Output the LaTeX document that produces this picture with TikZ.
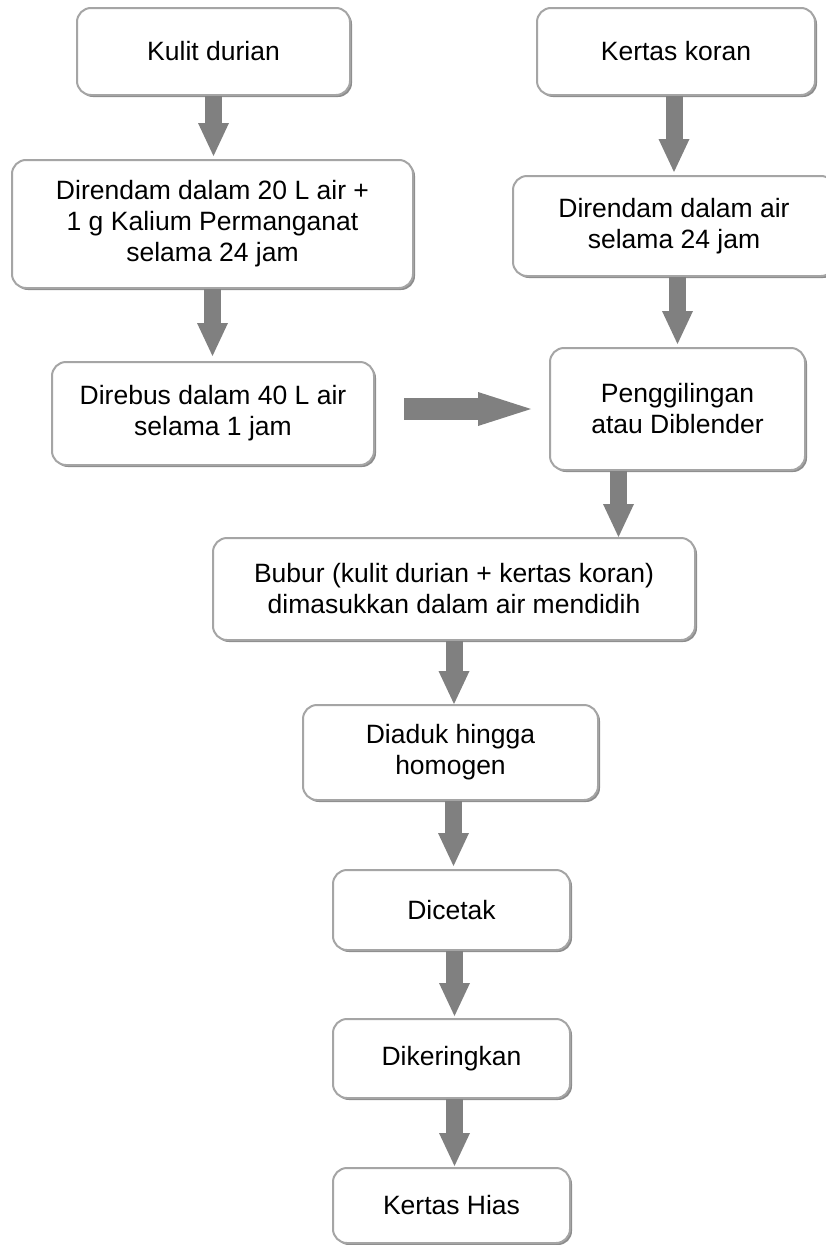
\documentclass[tikz,border=0pt]{standalone}
\usepackage{fontspec}
\setmainfont{Liberation Sans}
\usetikzlibrary{arrows.meta, positioning, shadows}
\definecolor{boxline}{RGB}{165,165,165}
\definecolor{flowgray}{RGB}{128,128,128}

\begin{document}
\begin{tikzpicture}[x=1pt,y=-1pt]
  \tikzstyle{stage}=[draw=boxline, line width=2pt, rounded corners=14pt, fill=white,
    align=center, inner sep=0pt, font=\fontsize{26.5}{31}\selectfont,
    drop shadow={shadow xshift=2pt, shadow yshift=-2pt, fill=black!45, opacity=1}]
  \tikzstyle{flow}=[color=flowgray, line width=17pt,
    -{Triangle[width=31pt,length=33pt,line width=0pt]}]

  \useasboundingbox (0,0) rectangle (826,1245);

  % left column
  \node[stage, minimum width=273pt, minimum height=87pt]  (kulit)   at (213.5,51.5) {Kulit durian};
  \node[stage, minimum width=401pt, minimum height=128pt] (rendamA) at (212.5,224)  {Direndam dalam 20 L air +\\ 1 g Kalium Permanganat\\ selama 24 jam};
  \node[stage, minimum width=322pt, minimum height=103pt] (rebus)   at (213,413.5)  {Direbus dalam 40 L air\\ selama 1 jam};

  % right column
  \node[stage, minimum width=278pt, minimum height=87pt]  (koran)   at (676,51.5)   {Kertas koran};
  \node[stage, minimum width=322pt, minimum height=100pt] (rendamB) at (674,226)    {Direndam dalam air\\ selama 24 jam};
  \node[stage, minimum width=255pt, minimum height=122pt] (giling)  at (677.5,409)  {Penggilingan\\ atau Diblender};

  % middle
  \node[stage, minimum width=482pt, minimum height=102pt] (bubur)   at (454,589)    {Bubur (kulit durian + kertas koran)\\ dimasukkan dalam air mendidih};
  \node[stage, minimum width=295pt, minimum height=95pt]  (aduk)    at (450.5,752.5) {Diaduk hingga\\ homogen};
  \node[stage, minimum width=237pt, minimum height=80pt]  (cetak)   at (451.5,910)  {Dicetak};
  \node[stage, minimum width=237pt, minimum height=79pt]  (kering)  at (451.5,1058.5) {Dikeringkan};
  \node[stage, minimum width=237pt, minimum height=75pt]  (hias)    at (451.5,1205.5) {Kertas Hias};

  \path[flow]
  (kulit.south)               edge [shorten >=3pt] (kulit.south |- rendamA.north)
  (rendamA.south)             edge [shorten >=5pt] (rendamA.south |- rebus.north)
  (koran.south -| rendamB)    edge [shorten >=3pt] (rendamB.north)
  (rendamB.south -| giling)   edge [shorten >=3pt] (giling.north)
  ([xshift=-59pt]giling.south) edge ([xshift=-59pt]giling.south |- bubur.north)
  (bubur.south)               edge (bubur.south |- aduk.north)
  ([xshift=3pt]aduk.south)    edge [shorten >=3pt] ([xshift=3pt]aduk.south |- cetak.north)
  ([xshift=3pt]cetak.south)   edge [shorten >=2pt] ([xshift=3pt]cetak.south |- kering.north)
  ([xshift=3pt]kering.south)  edge [shorten >=1pt] ([xshift=3pt]kering.south |- hias.north)
  ;

  \path[flow, line width=22pt, -{Triangle[width=34pt,length=53pt,line width=0pt]}]
  (rebus.east |- giling.west) edge [shorten <=29pt, shorten >=18pt] (giling.west)
  ;
\end{tikzpicture}
\end{document}
